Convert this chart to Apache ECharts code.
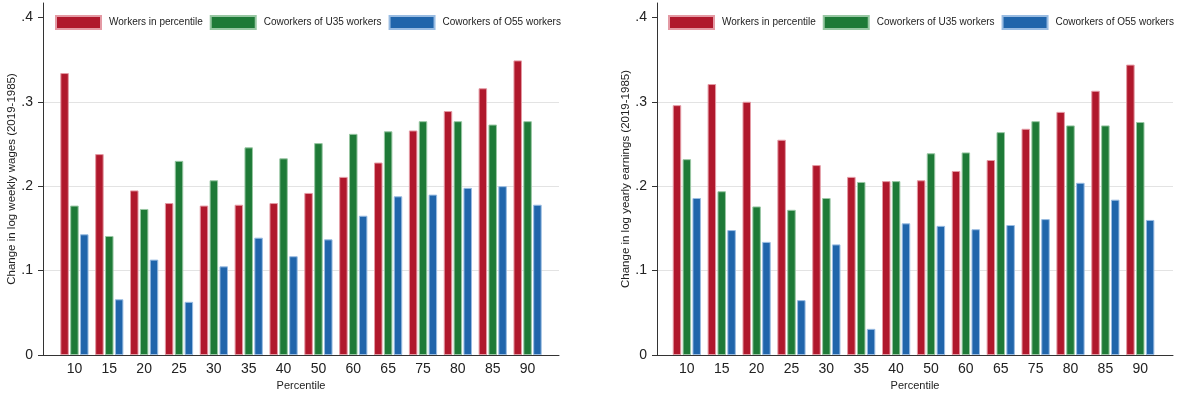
<!DOCTYPE html>
<html>
<head>
<meta charset="utf-8">
<script src="https://cdn.jsdelivr.net/npm/echarts@6/dist/echarts.min.js"></script>
<style>
html,body{margin:0;padding:0;background:#fff;}
#c{width:1177px;height:396px;}
</style>
</head>
<body>
<div id="c"></div>
<script>
const categories = ['10','15','20','25','30','35','40','50','60','65','75','80','85','90'];
const seriesNames = ['Workers in percentile','Coworkers of U35 workers','Coworkers of O55 workers'];
const yTicks = [0, 0.1, 0.2, 0.3, 0.4];

// Left panel: change in log weekly wages
const wagesWorkers = [0.334, 0.238, 0.195, 0.180, 0.177, 0.178, 0.180, 0.192, 0.211, 0.228, 0.266, 0.289, 0.316, 0.349];
const wagesU35     = [0.177, 0.141, 0.173, 0.230, 0.207, 0.246, 0.233, 0.251, 0.262, 0.265, 0.277, 0.277, 0.273, 0.277];
const wagesO55     = [0.143, 0.066, 0.113, 0.063, 0.105, 0.139, 0.117, 0.137, 0.165, 0.188, 0.190, 0.198, 0.200, 0.178];

// Right panel: change in log yearly earnings
const earnWorkers = [0.296, 0.321, 0.300, 0.255, 0.225, 0.211, 0.206, 0.207, 0.218, 0.231, 0.268, 0.288, 0.313, 0.344];
const earnU35     = [0.232, 0.194, 0.176, 0.172, 0.186, 0.205, 0.206, 0.239, 0.240, 0.264, 0.277, 0.272, 0.272, 0.276];
const earnO55     = [0.186, 0.148, 0.134, 0.065, 0.131, 0.031, 0.156, 0.153, 0.149, 0.154, 0.161, 0.204, 0.184, 0.160];

const colors = ['#B0182C', '#1E7A37', '#2065AB'];
const borders = ['#E49AA4', '#98C7A3', '#99BCE2'];
const FONT = '"Liberation Sans", Arial, Helvetica, sans-serif';
const YMAX = 0.417;

const chart = echarts.init(document.getElementById('c'), null, {renderer: 'canvas'});

function fmt(v) {
  if (Math.abs(v) < 1e-9) return '0';
  return v.toFixed(1).replace(/^0/, '');
}

function axisGridY(gi, title) {
  return {
    type: 'value', gridIndex: gi, min: 0, max: YMAX, interval: 0.1,
    name: title, nameLocation: 'middle', nameGap: 21,
    nameTextStyle: {fontFamily: FONT, fontSize: 11.5, color: '#222'},
    axisLine: {show: true, lineStyle: {color: '#333', width: 1}},
    axisTick: {show: true, length: 5, lineStyle: {color: '#333'}, customValues: yTicks},
    axisLabel: {fontFamily: FONT, fontSize: 14, color: '#222', margin: 10, formatter: fmt, customValues: yTicks},
    splitLine: {show: true, showMinLine: false, showMaxLine: false, lineStyle: {color: '#e3e3e3', width: 1}}
  };
}
function axisGridX(gi) {
  return {
    type: 'value', gridIndex: gi, min: 0, max: 1,
    name: 'Percentile', nameLocation: 'middle', nameGap: 25,
    nameTextStyle: {fontFamily: FONT, fontSize: 11, color: '#222'},
    axisLine: {show: true, onZero: false, lineStyle: {color: '#333', width: 1}},
    axisTick: {show: false}, axisLabel: {show: false}, splitLine: {show: false}
  };
}
function barX(gi) {
  return {
    type: 'category', gridIndex: gi, data: categories,
    axisLine: {show: false}, axisTick: {show: false},
    axisLabel: {fontFamily: FONT, fontSize: 14, color: '#222', margin: 7}
  };
}
function barY(gi) {
  return {type: 'value', gridIndex: gi, min: 0, max: YMAX, show: false, splitLine: {show: false}};
}
function bars(gi, arrs) {
  return arrs.map((d, i) => ({
    name: seriesNames[i], type: 'bar', xAxisIndex: gi, yAxisIndex: gi, data: d,
    barWidth: 8.5, barGap: '16%',
    itemStyle: {color: colors[i], borderColor: borders[i], borderWidth: 1},
    emphasis: {disabled: true}
  }));
}
function legend(left) {
  return {
    left: left, top: 15, width: 700, padding: 0, itemWidth: 45, itemHeight: 13, itemGap: 7,
    icon: 'rect', data: seriesNames, selectedMode: false,
    textStyle: {fontFamily: FONT, fontSize: 10, color: '#222', padding: [0, 0, 0, 3]}
  };
}

chart.setOption({
  animation: false,
  backgroundColor: '#fff',
  grid: [
    {left: 43, right: 618, top: 3, bottom: 41},
    {left: 57, right: 632, top: 3, bottom: 41},
    {left: 657, right: 4, top: 3, bottom: 41},
    {left: 669.4, right: 19.3, top: 3, bottom: 41}
  ],
  legend: [legend(55), legend(668)],
  xAxis: [axisGridX(0), barX(1), axisGridX(2), barX(3)],
  yAxis: [axisGridY(0, 'Change in log weekly wages (2019-1985)'), barY(1),
          axisGridY(2, 'Change in log yearly earnings (2019-1985)'), barY(3)],
  series: [].concat(bars(1, [wagesWorkers, wagesU35, wagesO55]),
                    bars(3, [earnWorkers, earnU35, earnO55]))
});
</script>
</body>
</html>
